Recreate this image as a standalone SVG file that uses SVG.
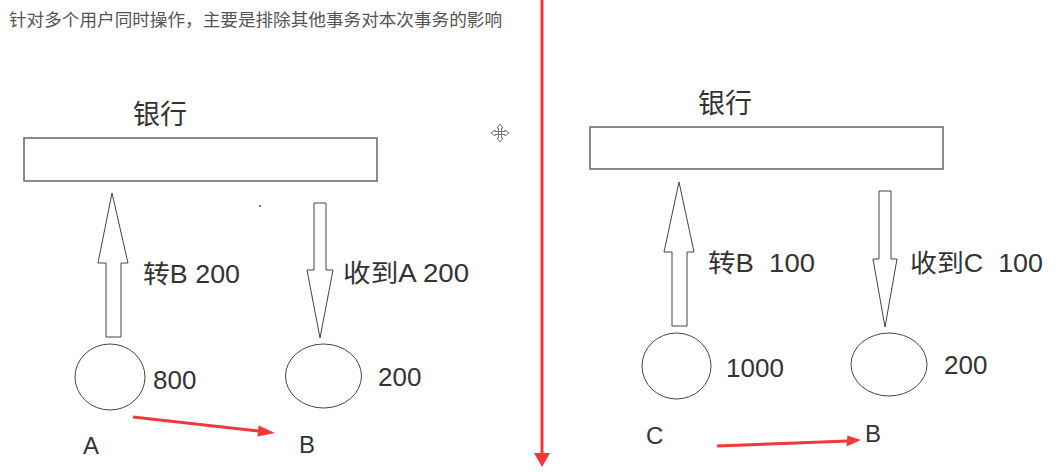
<svg xmlns="http://www.w3.org/2000/svg" width="1058" height="472" viewBox="0 0 1058 472">
<style>
.t{font-family:"Liberation Sans","Noto Sans CJK SC",sans-serif;fill:#333}
.h{font-family:"Noto Sans CJK SC",sans-serif;fill:#555;font-size:17px}
.bank{fill:#fff;stroke:#666;stroke-width:1.5}
.blk{fill:#fff;stroke:#444;stroke-width:1}
.acct{fill:#fff;stroke:#444;stroke-width:1}
.red{fill:none;stroke:#f23838;stroke-width:3}
.rh{fill:#f23838}
</style>
<rect width="1058" height="472" fill="#fff"/>
<text class="h" x="9" y="26" textLength="493" lengthAdjust="spacingAndGlyphs">针对多个用户同时操作，主要是排除其他事务对本次事务的影响</text>

<g id="bank-left">
<rect class="bank" x="24" y="138" width="353" height="43"/>
<text class="t" x="133" y="124" font-size="27" font-family="Noto Sans CJK SC">银行</text>
</g>
<g id="transfer-left">
<path class="blk" d="M106,337 L106,263 L98,263 L112,193 L128,263 L121,263 L121,337 Z"/>
<text class="t" x="143" y="283" font-size="25" textLength="97" lengthAdjust="spacingAndGlyphs">转B 200</text>
</g>
<g id="receive-left">
<path class="blk" d="M314,203 L326,203 L326,270 L333,270 L320,338 L307,270 L314,270 Z"/>
<text class="t" x="343" y="282" font-size="25" textLength="126" lengthAdjust="spacingAndGlyphs">收到A 200</text>
</g>
<g id="account-A">
<ellipse class="acct" cx="110" cy="377" rx="35" ry="33"/>
<text class="t" x="153" y="389" font-size="26">800</text>
<text class="t" x="83" y="454" font-size="24">A</text>
</g>
<g id="account-B-left">
<ellipse class="acct" cx="323.5" cy="376" rx="38" ry="32"/>
<text class="t" x="378" y="386" font-size="26">200</text>
<text class="t" x="299" y="453" font-size="24">B</text>
</g>
<circle cx="260" cy="206" r="1" fill="#555"/>
<g id="move-icon" fill="none" stroke="#777" stroke-width="1">
<path d="M500,124 L503,128 L501.5,128 L501.5,138 L503,138 L500,142 L497,138 L498.5,138 L498.5,128 L497,128 Z"/>
<path d="M491,133 L495,130 L495,131.5 L505,131.5 L505,130 L509,133 L505,136 L505,134.5 L495,134.5 L495,136 Z"/>
</g>

<g id="bank-right">
<rect class="bank" x="590" y="127" width="353" height="42"/>
<text class="t" x="698" y="113" font-size="27" font-family="Noto Sans CJK SC">银行</text>
</g>
<g id="transfer-right">
<path class="blk" d="M672,326 L672,252 L664,252 L679,182 L694,252 L687,252 L687,326 Z"/>
<text class="t" x="708" y="272" font-size="25" textLength="107" lengthAdjust="spacingAndGlyphs" xml:space="preserve">转B  100</text>
</g>
<g id="receive-right">
<path class="blk" d="M879,191 L891,191 L891,259 L897,259 L885,327 L873,259 L879,259 Z"/>
<text class="t" x="910" y="272" font-size="25" textLength="133" lengthAdjust="spacingAndGlyphs" xml:space="preserve">收到C  100</text>
</g>
<g id="account-C">
<ellipse class="acct" cx="676.5" cy="366" rx="34.5" ry="33"/>
<text class="t" x="726" y="377" font-size="26">1000</text>
<text class="t" x="646" y="444" font-size="24">C</text>
</g>
<g id="account-B-right">
<ellipse class="acct" cx="889" cy="364.5" rx="38" ry="31.5"/>
<text class="t" x="944" y="374" font-size="26">200</text>
<text class="t" x="865" y="442" font-size="24">B</text>
</g>

<g id="connectors">
<line class="red" x1="133" y1="417" x2="259" y2="431"/>
<polygon class="rh" points="258.6,425.5 275,433 257.4,436.5"/>
<line class="red" x1="717" y1="446" x2="848" y2="441"/>
<polygon class="rh" points="847.4,435.5 861,440 846.6,446.5"/>
<line class="red" x1="542" y1="0" x2="542" y2="454" stroke-width="4"/>
<polygon class="rh" points="534,453 550,453 542,467"/>
</g>
</svg>
